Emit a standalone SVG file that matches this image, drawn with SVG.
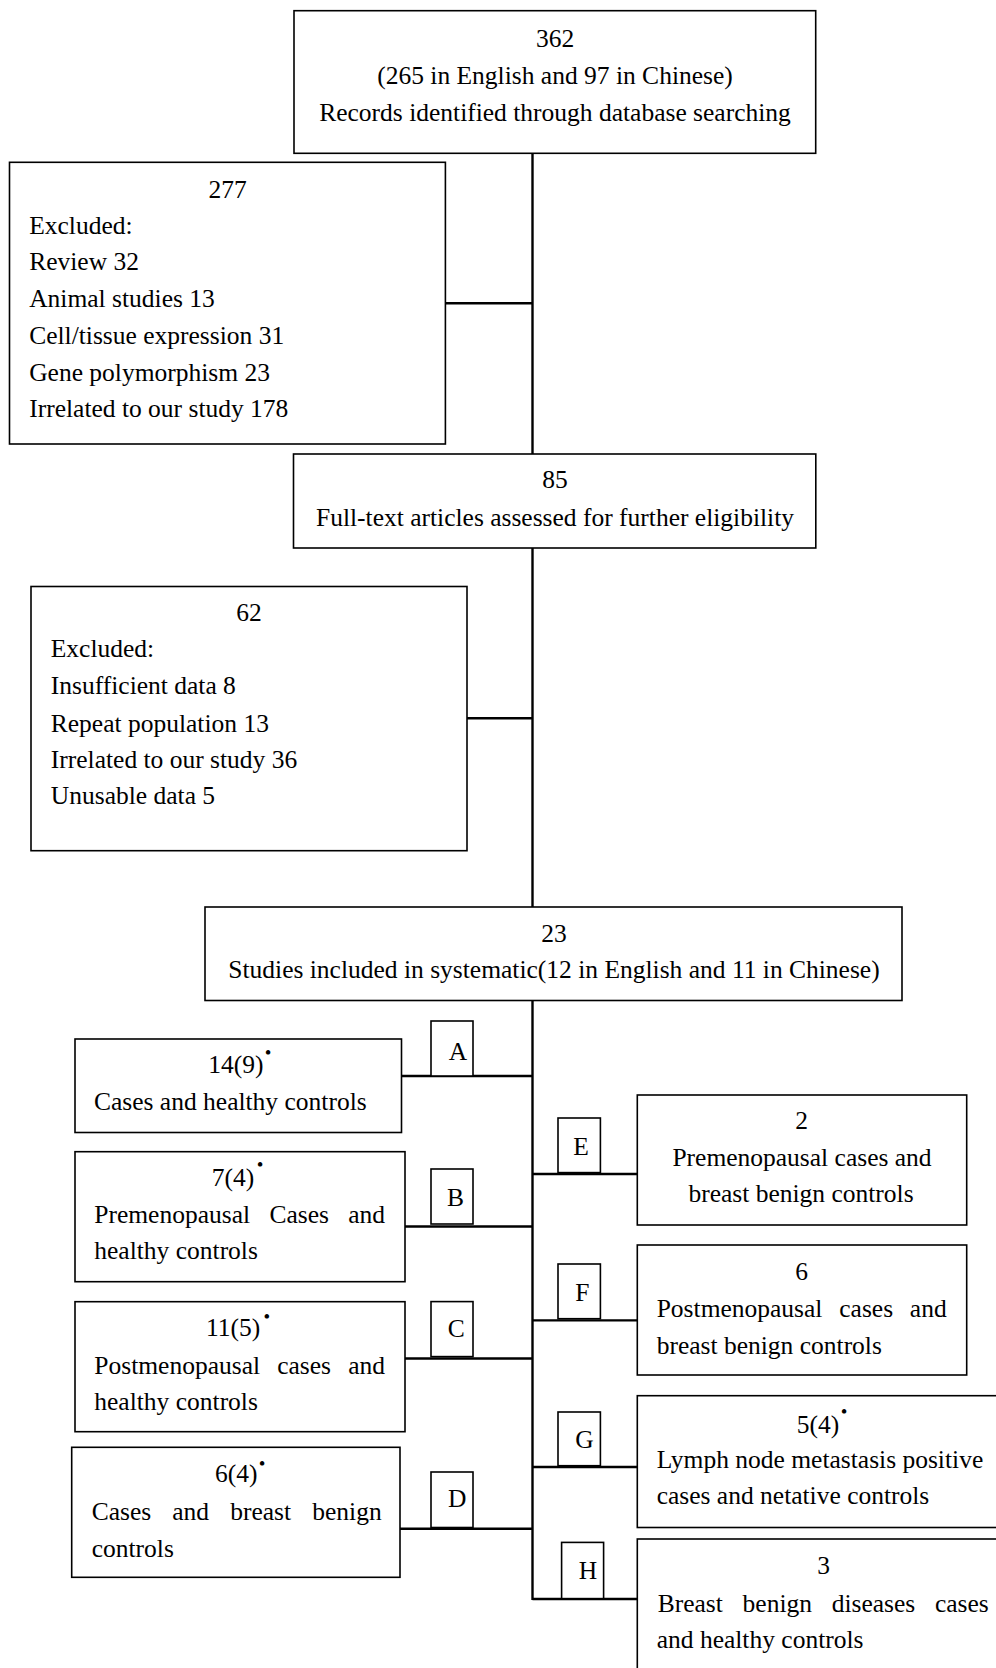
<svg xmlns="http://www.w3.org/2000/svg" width="996" height="1668" viewBox="0 0 996 1668">
<style>
  .box { fill: #ffffff; stroke: #000000; stroke-width: 1.6; }
  .lbl { fill: #ffffff; stroke: #000000; stroke-width: 1.6; }
  .conn { stroke: #000000; stroke-width: 2.4; fill: none; }
  text { font-family: "Liberation Serif", "Times New Roman", serif; font-size: 25.5px; fill: #000000; }
  .c { text-anchor: middle; }
  .e { text-anchor: end; }
  .dot { font-size: 19px; }
</style>
<rect x="0" y="0" width="996" height="1668" fill="#ffffff"/>

<g id="connectors">
  <line class="conn" x1="532.5" y1="153" x2="532.5" y2="454"/>
  <line class="conn" x1="532.5" y1="548" x2="532.5" y2="907"/>
  <line class="conn" x1="532.5" y1="1000" x2="532.5" y2="1600"/>
  <line class="conn" x1="445.4" y1="303.3" x2="532.5" y2="303.3"/>
  <line class="conn" x1="467" y1="718.2" x2="532.5" y2="718.2"/>
  <line class="conn" x1="401.5" y1="1076" x2="532.5" y2="1076"/>
  <line class="conn" x1="405" y1="1226.5" x2="532.5" y2="1226.5"/>
  <line class="conn" x1="405" y1="1358.5" x2="532.5" y2="1358.5"/>
  <line class="conn" x1="400" y1="1528.8" x2="532.5" y2="1528.8"/>
  <line class="conn" x1="532.5" y1="1174" x2="637.3" y2="1174"/>
  <line class="conn" x1="532.5" y1="1320.4" x2="637.3" y2="1320.4"/>
  <line class="conn" x1="532.5" y1="1467" x2="637.3" y2="1467"/>
  <line class="conn" x1="532.5" y1="1599" x2="640" y2="1599"/>
</g>

<g id="node-identified">
  <rect class="box" x="294" y="10.7" width="521.7" height="142.6"/>
  <text class="c" x="555" y="47">362</text>
  <text class="c" x="555" y="84">(265 in English and 97 in Chinese)</text>
  <text class="c" x="555" y="121">Records identified through database searching</text>
</g>

<g id="node-excluded-277">
  <rect class="box" x="9.5" y="162.3" width="435.9" height="281.7"/>
  <text class="c" x="227.5" y="197.5">277</text>
  <text x="29.2" y="233.5">Excluded:</text>
  <text x="29.2" y="270">Review 32</text>
  <text x="29.2" y="307">Animal studies 13</text>
  <text x="29.2" y="344">Cell/tissue expression 31</text>
  <text x="29.2" y="381">Gene polymorphism 23</text>
  <text x="29.2" y="417">Irrelated to our study 178</text>
</g>

<g id="node-fulltext">
  <rect class="box" x="293.5" y="454" width="522.3" height="94"/>
  <text class="c" x="555" y="488">85</text>
  <text class="c" x="555" y="526">Full-text articles assessed for further eligibility</text>
</g>

<g id="node-excluded-62">
  <rect class="box" x="31" y="586.5" width="436" height="264.2"/>
  <text class="c" x="249" y="620.5">62</text>
  <text x="50.8" y="657.3">Excluded:</text>
  <text x="50.8" y="694.3">Insufficient data 8</text>
  <text x="50.8" y="731.5">Repeat population 13</text>
  <text x="50.8" y="768">Irrelated to our study 36</text>
  <text x="50.8" y="803.8">Unusable data 5</text>
</g>

<g id="node-included">
  <rect class="box" x="205" y="907" width="697" height="93.5"/>
  <text class="c" x="554" y="941.5">23</text>
  <text class="c" x="554" y="977.5">Studies included in systematic(12 in English and 11 in Chinese)</text>
</g>

<g id="node-A">
  <rect class="box" x="75" y="1039" width="326.5" height="93.5"/>
  <text x="208.3" y="1073">14(9)<tspan class="dot" x="264.7" y="1059.3">•</tspan></text>
  <text x="94" y="1110">Cases and healthy controls</text>
</g>
<g id="label-A">
  <rect class="lbl" x="431" y="1021" width="42" height="55"/>
  <text class="c" x="458" y="1059.5">A</text>
</g>

<g id="node-B">
  <rect class="box" x="75" y="1151.7" width="330" height="130"/>
  <text x="211.7" y="1186">7(4)<tspan class="dot" x="256.7" y="1170.7">•</tspan></text>
  <text y="1222.5"><tspan x="94.3">Premenopausal</tspan><tspan x="269.4">Cases</tspan></text>
  <text class="e" x="385" y="1222.5">and</text>
  <text x="94.3" y="1259">healthy controls</text>
</g>
<g id="label-B">
  <rect class="lbl" x="431" y="1169" width="42" height="55"/>
  <text class="c" x="455.5" y="1206">B</text>
</g>

<g id="node-C">
  <rect class="box" x="75" y="1301.7" width="330" height="130"/>
  <text x="206" y="1336">11(5)<tspan class="dot" x="263.4" y="1323.3">•</tspan></text>
  <text y="1373.5"><tspan x="94.3">Postmenopausal</tspan><tspan x="277.2">cases</tspan></text>
  <text class="e" x="385" y="1373.5">and</text>
  <text x="94.3" y="1410">healthy controls</text>
</g>
<g id="label-C">
  <rect class="lbl" x="431" y="1301.6" width="42" height="55"/>
  <text class="c" x="456.3" y="1337">C</text>
</g>

<g id="node-D">
  <rect class="box" x="71.7" y="1447.3" width="328.3" height="130"/>
  <text x="215" y="1482">6(4)<tspan class="dot" x="258.7" y="1470">•</tspan></text>
  <text y="1519.5"><tspan x="91.7">Cases</tspan><tspan x="172.3">and</tspan><tspan x="230.2">breast</tspan></text>
  <text class="e" x="381.7" y="1519.5">benign</text>
  <text x="91.7" y="1556.5">controls</text>
</g>
<g id="label-D">
  <rect class="lbl" x="431" y="1472" width="42" height="55.5"/>
  <text class="c" x="457.3" y="1507">D</text>
</g>

<g id="node-E">
  <rect class="box" x="637.3" y="1095" width="329.4" height="130"/>
  <text class="c" x="801.7" y="1128.5">2</text>
  <text class="c" x="802" y="1166">Premenopausal cases and</text>
  <text class="c" x="801" y="1202">breast benign controls</text>
</g>
<g id="label-E">
  <rect class="lbl" x="558" y="1118" width="42.4" height="54.6"/>
  <text class="c" x="581" y="1155">E</text>
</g>

<g id="node-F">
  <rect class="box" x="637.3" y="1245" width="329.4" height="130"/>
  <text class="c" x="801.7" y="1280">6</text>
  <text y="1317"><tspan x="656.7">Postmenopausal</tspan><tspan x="839.3">cases</tspan></text>
  <text class="e" x="946.7" y="1317">and</text>
  <text x="656.7" y="1353.5">breast benign controls</text>
</g>
<g id="label-F">
  <rect class="lbl" x="558" y="1264" width="42.4" height="54.7"/>
  <text class="c" x="582.4" y="1301">F</text>
</g>

<g id="node-G">
  <rect class="box" x="637.3" y="1395.7" width="370" height="131.8"/>
  <text x="796.7" y="1433">5(4)<tspan class="dot" x="840.7" y="1418.4">•</tspan></text>
  <text x="656.7" y="1468">Lymph node metastasis positive</text>
  <text x="656.7" y="1503.5">cases and netative controls</text>
</g>
<g id="label-G">
  <rect class="lbl" x="558" y="1412" width="42.4" height="53.7"/>
  <text class="c" x="584.5" y="1448">G</text>
</g>

<g id="node-H">
  <rect class="box" x="637.3" y="1539" width="370" height="150"/>
  <text class="c" x="823.7" y="1574">3</text>
  <text y="1611.5"><tspan x="657.7">Breast</tspan><tspan x="742.6">benign</tspan><tspan x="831.7">diseases</tspan></text>
  <text class="e" x="988.7" y="1611.5">cases</text>
  <text x="656.7" y="1648">and healthy controls</text>
</g>
<g id="label-H">
  <rect class="lbl" x="561.6" y="1542.4" width="42" height="56.2"/>
  <text class="c" x="587.9" y="1579">H</text>
</g>
</svg>
